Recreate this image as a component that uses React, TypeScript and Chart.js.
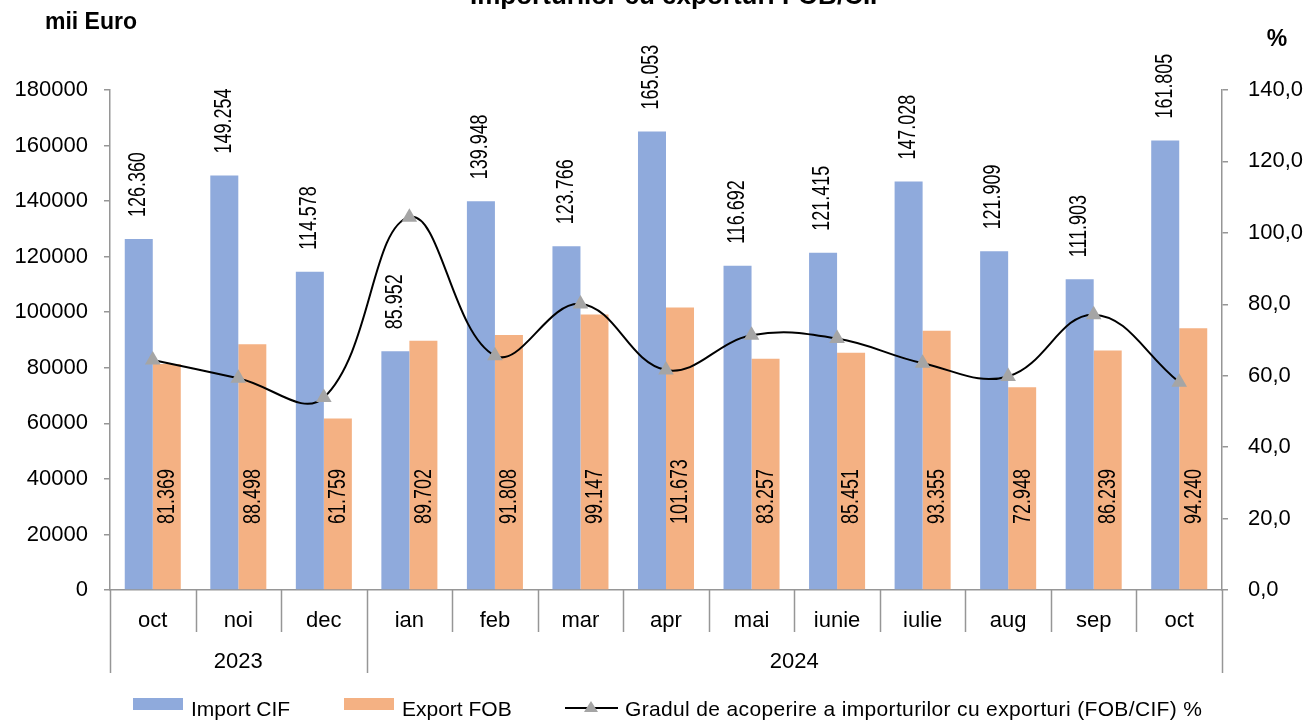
import React, { useEffect, useRef } from "react";
import { Chart, registerables } from "chart.js";

Chart.register(...registerables);

const months = ["oct", "noi", "dec", "ian", "feb", "mar", "apr", "mai", "iunie", "iulie", "aug", "sep", "oct"];
const years = [
  { label: "2023", from: 0, to: 2 },
  { label: "2024", from: 3, to: 12 },
];
const importCIF = [126360, 149254, 114578, 85952, 139948, 123766, 165053, 116692, 121415, 147028, 121909, 111903, 161805];
const exportFOB = [81369, 88498, 61759, 89702, 91808, 99147, 101673, 83257, 85451, 93355, 72948, 86239, 94240];
const coverage = [64.4, 59.3, 53.9, 104.4, 65.6, 80.1, 61.6, 71.3, 70.4, 63.5, 59.8, 77.1, 58.2];

const titleText = "Importurilor cu exporturi FOB/CIF";
const leftUnit = "mii Euro";
const rightUnit = "%";
const legendLabels = ["Import CIF", "Export FOB", "Gradul de acoperire a importurilor cu exporturi (FOB/CIF) %"];

const BLUE = "#8FAADC";
const ORANGE = "#F4B183";
const GRAY_MARK = "#A5A5A5";
const AXIS = "#969696";
const FONT = "'Liberation Sans', Arial, sans-serif";

const fmtThousands = (v: number) => {
  const s = String(Math.round(v));
  return s.replace(/\B(?=(\d{3})+(?!\d))/g, ".");
};

const drawCondensed = (ctx: any, text: string, x: number, y: number) => {
  ctx.save();
  ctx.translate(x, y);
  ctx.rotate(-Math.PI / 2);
  ctx.scale(0.78, 1);
  ctx.fillText(text, 0, 0);
  ctx.restore();
};

const overlayPlugin = {
  id: "overlay",
  afterDatasetsDraw(chart: any) {
    const ctx = chart.ctx;
    const yScale = chart.scales.y;
    ctx.save();
    ctx.fillStyle = "#000";
    ctx.font = `23px ${FONT}`;
    ctx.textBaseline = "middle";
    ctx.textAlign = "left";
    const m0 = chart.getDatasetMeta(0);
    m0.data.forEach((bar: any, i: number) => {
      drawCondensed(ctx, fmtThousands(importCIF[i]), bar.x, bar.y - 22);
    });
    const m1 = chart.getDatasetMeta(1);
    const base = yScale.getPixelForValue(0);
    m1.data.forEach((bar: any, i: number) => {
      drawCondensed(ctx, fmtThousands(exportFOB[i]), bar.x + 1, base - 66);
    });
    ctx.restore();
  },
  afterDraw(chart: any) {
    const ctx = chart.ctx;
    const area = chart.chartArea;
    ctx.save();
    // category separators
    ctx.strokeStyle = AXIS;
    ctx.lineWidth = 1.5;
    const n = months.length;
    const cw = (area.right - area.left) / n;
    for (let i = 0; i <= n; i++) {
      const px = Math.round(area.left + i * cw) + 0.5;
      const isGroup = years.some((g) => g.from === i) || i === n;
      ctx.beginPath();
      ctx.moveTo(px, area.bottom);
      ctx.lineTo(px, area.bottom + (isGroup ? 83 : 42));
      ctx.stroke();
    }
    // year labels
    ctx.fillStyle = "#000";
    ctx.font = `22px ${FONT}`;
    ctx.textAlign = "center";
    ctx.textBaseline = "middle";
    years.forEach((g) => {
      const cx = (area.left + g.from * cw + area.left + (g.to + 1) * cw) / 2;
      ctx.fillText(g.label, cx, area.bottom + 72);
    });
    // title & units
    ctx.font = `bold 26px ${FONT}`;
    ctx.textBaseline = "alphabetic";
    ctx.fillText(titleText, 678, 4);
    ctx.font = `bold 23px ${FONT}`;
    ctx.textBaseline = "middle";
    ctx.fillText(leftUnit, 91, 23);
    ctx.fillText(rightUnit, 1277, 40);
    // legend
    ctx.font = `21px ${FONT}`;
    ctx.textAlign = "left";
    ctx.textBaseline = "alphabetic";
    ctx.fillStyle = BLUE;
    ctx.fillRect(133, 698, 50, 12);
    ctx.fillStyle = "#000";
    ctx.fillText(legendLabels[0], 191, 716);
    ctx.fillStyle = ORANGE;
    ctx.fillRect(344, 698, 50, 12);
    ctx.fillStyle = "#000";
    ctx.fillText(legendLabels[1], 402, 716);
    ctx.strokeStyle = "#000";
    ctx.lineWidth = 2;
    ctx.beginPath();
    ctx.moveTo(565, 708);
    ctx.lineTo(618, 708);
    ctx.stroke();
    ctx.fillStyle = GRAY_MARK;
    ctx.beginPath();
    ctx.moveTo(591, 701);
    ctx.lineTo(598, 712);
    ctx.lineTo(584, 712);
    ctx.closePath();
    ctx.fill();
    ctx.fillStyle = "#000";
    (ctx as any).letterSpacing = "0.35px";
    ctx.fillText(legendLabels[2], 625, 716);
    (ctx as any).letterSpacing = "0px";
    ctx.restore();
  },
};

export default function App() {
  const ref = useRef<HTMLCanvasElement>(null);
  useEffect(() => {
    if (!ref.current) return;
    const chart = new Chart(ref.current, {
      type: "bar",
      data: {
        labels: months,
        datasets: [
          {
            type: "bar",
            label: legendLabels[0],
            data: importCIF,
            backgroundColor: BLUE,
            yAxisID: "y",
            order: 2,
            categoryPercentage: 0.655,
            barPercentage: 1,
          },
          {
            type: "bar",
            label: legendLabels[1],
            data: exportFOB,
            backgroundColor: ORANGE,
            yAxisID: "y",
            order: 2,
            categoryPercentage: 0.655,
            barPercentage: 1,
          },
          {
            type: "line",
            label: legendLabels[2],
            data: coverage,
            yAxisID: "y1",
            borderColor: "#000",
            borderWidth: 2,
            tension: 0.4,
            pointStyle: "triangle",
            pointRadius: 9,
            pointBackgroundColor: GRAY_MARK,
            pointBorderColor: GRAY_MARK,
            pointBorderWidth: 0,
            order: 0,
          } as any,
        ],
      },
      plugins: [overlayPlugin],
      options: {
        responsive: false,
        animation: false,
        devicePixelRatio: 1,
        layout: { padding: { top: 90, left: 0, right: 0, bottom: 0 } },
        plugins: {
          legend: { display: false },
          title: { display: false },
          tooltip: { enabled: false },
        },
        scales: {
          x: {
            grid: { display: false },
            border: { display: true, color: AXIS, width: 1.5 },
            ticks: {
              color: "#000",
              font: { family: FONT, size: 22 },
              padding: 10,
              maxRotation: 0,
              autoSkip: false,
            },
            afterFit: (s: any) => {
              s.height = 130;
            },
          },
          y: {
            position: "left",
            min: 0,
            max: 180000,
            grid: { drawOnChartArea: false, color: AXIS, tickLength: 6, lineWidth: 1.5 },
            border: { display: true, color: AXIS, width: 1.5 },
            ticks: {
              stepSize: 20000,
              color: "#000",
              font: { family: FONT, size: 22 },
              padding: 16,
              callback: (v: any) => String(v),
            },
            afterFit: (s: any) => {
              s.width = 110;
            },
          },
          y1: {
            position: "right",
            min: 0,
            max: 140,
            grid: { drawOnChartArea: false, color: AXIS, tickLength: 6, lineWidth: 1.5 },
            border: { display: true, color: AXIS, width: 1.5 },
            ticks: {
              stepSize: 20,
              color: "#000",
              font: { family: FONT, size: 22 },
              padding: 20,
              callback: (v: any) => Number(v).toFixed(1).replace(".", ","),
            },
            afterFit: (s: any) => {
              s.width = 87;
            },
          },
        },
      },
    });
    return () => chart.destroy();
  }, []);
  return (
    <div style={{ position: "fixed", left: 0, top: 0, width: 1309, height: 720, background: "#fff" }}>
      <canvas ref={ref} width={1309} height={720} style={{ display: "block" }} />
    </div>
  );
}
